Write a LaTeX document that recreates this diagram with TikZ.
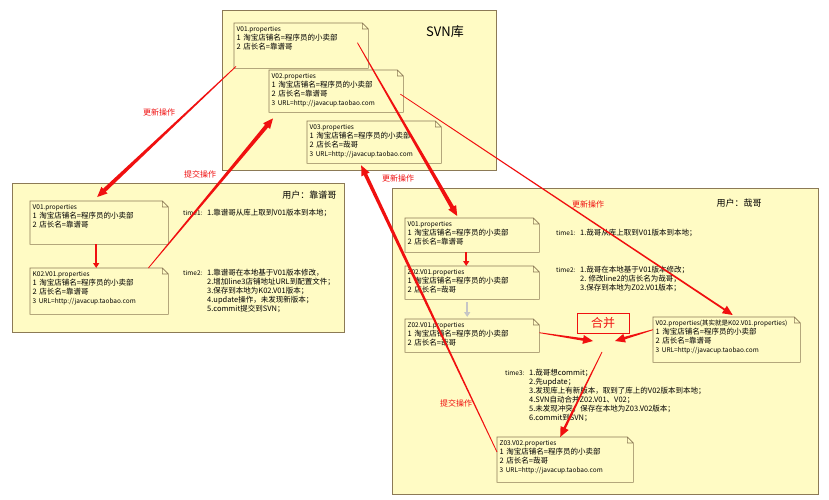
\documentclass[tikz,border=0pt]{standalone}
\usepackage{fontspec}
\setmainfont{Noto Sans CJK SC}
\usetikzlibrary{calc,arrows.meta}
\definecolor{boxfill}{RGB}{255,251,196}
\definecolor{boxline}{RGB}{140,122,86}
\definecolor{opred}{RGB}{240,16,16}
\newcommand{\fine}[1]{{\fontsize{6.5}{9}\selectfont #1}}
\newcommand{\taperarrow}[3][1.8pt]{%
  \path (#2) coordinate (ta) (#3) coordinate (tb);
  \path ($(tb)!10pt!(ta)$) coordinate (tc);
  \fill[opred] ($(ta)!0.4pt!90:(tb)$) -- ($(tc)!#1!90:(tb)$) -- ($(tc)!4.5pt!90:(tb)$) -- (tb)
    -- ($(tc)!4.5pt!-90:(tb)$) -- ($(tc)!#1!-90:(tb)$) -- ($(ta)!0.4pt!-90:(tb)$) -- cycle;}

\begin{document}
\begin{tikzpicture}[x=1pt,y=-1pt]
\tikzstyle{area}=[draw=boxline,fill=boxfill,line width=0.8pt,anchor=north west,inner sep=0pt]
\tikzstyle{notebox}=[anchor=north west,inner sep=2.5pt,text width=129pt,align=left,text height=6pt,
  font=\fontsize{7.5}{9}\selectfont]
\tikzstyle{noteline}=[draw=boxline,line width=0.6pt]
\tikzstyle{timetext}=[anchor=north west,inner sep=0pt,font=\fontsize{7.5}{9}\selectfont]
\tikzstyle{oplabel}=[text=opred,font=\fontsize{8}{9}\selectfont]
\tikzstyle{usertitle}=[font=\fontsize{9}{10}\selectfont]
\tikzstyle{flowarrow}=[opred,line width=1.6pt,-{Triangle[length=5pt,width=6pt]}]

\fill[white] (0,0) rectangle (829,500);
\useasboundingbox (0,0) rectangle (829,500);

\node[area,minimum width=274pt,minimum height=160pt] (svn) at (222,10) {};
\node[area,minimum width=332pt,minimum height=149pt] (userL) at (12,183) {};
\node[area,minimum width=426pt,minimum height=306pt] (userR) at (392,188) {};

\node[font=\fontsize{13}{13}\selectfont] (svntitle) at (445,32) {SVN库};
\node[usertitle,anchor=east] (titleL) at (340,195) {用户：靠谱哥};
\node[usertitle] (titleR) at (739,203) {用户：哉哥};

\node[notebox,text depth=34pt] (sv1) at (234,23) {\fine{V01.properties}\\1 淘宝店铺名=程序员的小卖部\\2 店长名=靠谱哥};
\node[notebox,text depth=31pt] (sv2) at (269,70) {\fine{V02.properties}\\1 淘宝店铺名=程序员的小卖部\\2 店长名=靠谱哥\\\fine{3 URL=http://javacup.taobao.com}};
\node[notebox,text depth=31pt] (sv3) at (307,121) {\fine{V03.properties}\\1 淘宝店铺名=程序员的小卖部\\2 店长名=哉哥\\\fine{3 URL=http://javacup.taobao.com}};

\node[notebox,text width=133pt,text depth=32pt] (lv1) at (30,201) {\fine{V01.properties}\\1 淘宝店铺名=程序员的小卖部\\2 店长名=靠谱哥};
\node[notebox,text width=133pt,text depth=35pt] (lk2) at (30,268) {\fine{K02.V01.properties}\\1 淘宝店铺名=程序员的小卖部\\2 店长名=靠谱哥\\\fine{3 URL=http://javacup.taobao.com}};

\node[notebox,text depth=23pt] (rv1) at (405,218) {\fine{V01.properties}\\1 淘宝店铺名=程序员的小卖部\\2 店长名=靠谱哥};
\node[notebox,text depth=22pt] (rz2) at (405,266) {\fine{Z02.V01.properties}\\1 淘宝店铺名=程序员的小卖部\\2 店长名=哉哥};
\node[notebox,text depth=22pt] (rz2m) at (405,319) {\fine{Z02.V01.properties}\\1 淘宝店铺名=程序员的小卖部\\2 店长名=哉哥};
\node[notebox,text width=142pt,text depth=34pt] (rv2) at (653,317) {\fine{V02.properties(其实就是K02.V01.properties)}\\1 淘宝店铺名=程序员的小卖部\\2 店长名=靠谱哥\\\fine{3 URL=http://javacup.taobao.com}};
\node[notebox,text width=131pt,text depth=34pt] (rz3) at (497,437) {\fine{Z03.V02.properties}\\1 淘宝店铺名=程序员的小卖部\\2 店长名=哉哥\\\fine{3 URL=http://javacup.taobao.com}};

\foreach \n in {sv1,sv2,sv3,lv1,lk2,rv1,rz2,rz2m,rv2,rz3}
  \draw[noteline] (\n.north west) -- ([xshift=-6pt]\n.north east) -- ([yshift=-6pt]\n.north east)
    -- (\n.south east) -- (\n.south west) -- cycle
    ([xshift=-6pt]\n.north east) -- ([xshift=-6pt,yshift=-6pt]\n.north east) -- ([yshift=-6pt]\n.north east);

\node[timetext] (lt1) at (183,208.5) {\begin{tabular}{@{}p{24pt}@{}l@{}}\fine{time1:} & 1.靠谱哥从库上取到V01版本到本地；\end{tabular}};
\node[timetext] (lt2) at (183,268.5) {\begin{tabular}{@{}p{24pt}@{}l@{}}\fine{time2:} & 1.靠谱哥在本地基于V01版本修改，\\
  & 2.增加line3店铺地址URL到配置文件；\\ & 3.保存到本地为K02.V01版本；\\ & 4.update操作，未发现新版本；\\ & 5.commit提交到SVN；\end{tabular}};
\node[timetext] (rt1) at (556,228.5) {\begin{tabular}{@{}p{24pt}@{}l@{}}\fine{time1:} & 1.哉哥从库上取到V01版本到本地；\end{tabular}};
\node[timetext] (rt2) at (556,265.5) {\begin{tabular}{@{}p{24pt}@{}l@{}}\fine{time2:} & 1.哉哥在本地基于V01版本修改；\\
  & 2. 修改line2的店长名为哉哥；\\ & 3.保存到本地为Z02.V01版本；\end{tabular}};
\node[timetext] (rt3) at (505,368.5) {\begin{tabular}{@{}p{24pt}@{}l@{}}\fine{time3:} & 1.哉哥想commit；\\ & 2.先update；\\
  & 3.发现库上有新版本，取到了库上的V02版本到本地；\\ & 4.SVN自动合并Z02.V01、V02；\\
  & 5.未发现冲突，保存在本地为Z03.V02版本；\\ & 6.commit到SVN；\end{tabular}};

\node[draw=opred,line width=0.8pt,minimum width=52pt,minimum height=20pt,text=opred,font=\fontsize{12}{12}\selectfont] (merge) at (603,323) {合并};

\node[oplabel] (upL) at (159,112) {更新操作};
\node[oplabel] (ciL) at (200,174) {提交操作};
\node[oplabel] (upM) at (398,178) {更新操作};
\node[oplabel] (upR) at (588,204) {更新操作};
\node[oplabel] (ciR) at (456,403) {提交操作};

\draw[flowarrow] ([xshift=-3pt]lv1.south) -- ([xshift=-3pt]lk2.north);
\draw[flowarrow] ([xshift=-6pt]rv1.south) -- ([xshift=-6pt]rz2.north);
\draw[flowarrow,color=gray!45] ([xshift=-5pt,yshift=-3pt]rz2.south) -- ([xshift=-5pt,yshift=2pt]rz2m.north);

\taperarrow[2pt]{[xshift=2pt,yshift=2pt]sv1.south west}{[xshift=-2pt,yshift=4pt]lv1.north}
\taperarrow[2pt]{[xshift=-20pt]lk2.north east}{[xshift=4pt,yshift=-6pt]sv2.south west}
\taperarrow[2pt]{[xshift=-11pt,yshift=3pt]sv1.east}{[xshift=-15pt,yshift=2pt]rv1.north}
\taperarrow[0.9pt]{[xshift=-3pt,yshift=-3pt]sv2.east}{[xshift=6pt,yshift=2pt]rv2.north}
\taperarrow[1.8pt]{[yshift=-15pt]rz3.north west}{[xshift=-13pt,yshift=-2pt]sv3.south}

\coordinate (mg) at (604,344);
\taperarrow[1.3pt]{[yshift=3pt]rz2m.east}{[xshift=-11pt,yshift=3pt]mg}
\taperarrow[1.3pt]{[yshift=10pt]rv2.west}{[xshift=11pt,yshift=3pt]mg}
\taperarrow[1.2pt]{[xshift=-2pt,yshift=-8pt]mg}{[xshift=-5pt]rz3.north}
\end{tikzpicture}
\end{document}
